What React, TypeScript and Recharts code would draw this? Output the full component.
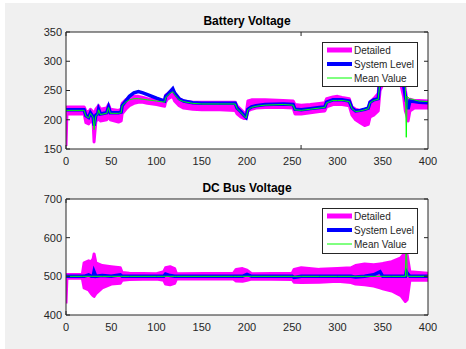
import React from 'react';
import { ComposedChart, Area, Line, XAxis, YAxis, CartesianGrid } from 'recharts';

// ---------- Battery Voltage ----------
const batteryTime = [0, 1, 20, 22, 25, 27, 30, 31, 33, 35, 36, 38, 45, 47, 49, 58, 61, 62, 66, 70, 75, 80, 85, 90, 100, 109, 110, 112, 115, 118, 120, 125, 130, 140, 150, 170, 187, 189, 193, 197, 199, 201, 205, 210, 220, 240, 251, 253, 260, 270, 280, 286, 288, 295, 300, 305, 313, 316, 320, 325, 330, 334, 336, 340, 345, 347, 350, 360, 370, 373, 375, 376, 377, 378, 380, 385, 390, 400];
const batterySystem = [217, 217, 217, 207, 204, 212, 205, 190, 208, 210, 218, 210, 212, 222, 212, 212, 213, 224, 232, 240, 246, 248, 246, 243, 237, 232, 240, 243, 248, 253, 246, 236, 232, 229, 228, 228, 228, 220, 214, 207, 204, 218, 222, 224, 226, 227, 226, 218, 217, 219, 221, 222, 230, 234, 234, 234, 232, 220, 215, 216, 218, 220, 230, 234, 236, 270, 290, 300, 290, 260, 240, 232, 230, 218, 232, 231, 230, 229];
const batteryMean = [216, 216, 216, 206, 203, 211, 204, 183, 207, 209, 217, 209, 211, 221, 211, 211, 212, 224, 230, 234, 236, 236, 235, 234, 232, 230, 237, 241, 245, 248, 243, 234, 231, 228, 227, 227, 227, 219, 213, 206, 203, 217, 221, 223, 225, 226, 225, 217, 216, 218, 220, 221, 229, 233, 233, 233, 231, 219, 214, 215, 217, 219, 229, 233, 235, 268, 288, 298, 288, 262, 255, 170, 240, 238, 236, 234, 232, 231];
const batteryDetailedLow = [155, 210, 210, 195, 193, 198, 195, 162, 198, 200, 202, 198, 200, 205, 200, 196, 198, 210, 218, 224, 228, 230, 230, 228, 226, 223, 230, 235, 238, 240, 232, 224, 220, 218, 217, 217, 216, 210, 205, 202, 202, 215, 218, 220, 221, 221, 220, 210, 210, 212, 214, 215, 222, 226, 226, 226, 224, 208, 200, 195, 190, 192, 205, 208, 215, 250, 260, 270, 260, 240, 215, 210, 205, 198, 215, 220, 220, 220];
const batteryDetailedHigh = [220, 222, 222, 215, 213, 218, 213, 208, 218, 222, 224, 218, 220, 226, 218, 216, 218, 228, 234, 238, 240, 240, 238, 236, 234, 233, 242, 244, 248, 250, 244, 236, 232, 230, 230, 230, 230, 224, 218, 212, 210, 232, 234, 234, 234, 233, 232, 226, 225, 226, 228, 229, 236, 239, 240, 238, 236, 222, 218, 216, 214, 218, 230, 236, 245, 290, 300, 310, 300, 280, 250, 240, 235, 225, 235, 233, 233, 232];

// ---------- DC Bus Voltage ----------
const busTime = [0, 1, 18, 20, 25, 28, 30, 31, 33, 40, 50, 60, 62, 70, 100, 108, 110, 115, 120, 122, 185, 188, 195, 200, 205, 250, 252, 260, 280, 300, 315, 320, 330, 340, 347, 350, 360, 370, 375, 376, 377, 380, 400];
const busSystem = [500, 500, 500, 500, 504, 500, 500, 512, 500, 502, 500, 504, 500, 500, 500, 500, 506, 502, 500, 500, 500, 500, 500, 505, 500, 500, 497, 500, 500, 500, 500, 498, 500, 504, 512, 500, 500, 500, 500, 512, 508, 500, 500];
const busMean = [500, 500, 500, 500, 500, 500, 500, 500, 500, 500, 500, 500, 500, 500, 500, 500, 500, 500, 500, 500, 500, 500, 500, 500, 500, 500, 500, 500, 500, 500, 500, 500, 500, 500, 500, 500, 500, 500, 500, 600, 500, 500, 500];
const busDetailedLow = [430, 495, 495, 470, 465, 455, 450, 448, 455, 470, 480, 482, 490, 492, 493, 490, 480, 478, 482, 493, 493, 488, 487, 490, 493, 492, 485, 484, 485, 487, 484, 480, 478, 475, 470, 468, 462, 450, 435, 437, 440, 490, 490];
const busDetailedHigh = [505, 505, 505, 535, 540, 538, 545, 558, 535, 528, 525, 522, 510, 508, 507, 512, 522, 525, 520, 507, 508, 518, 520, 516, 507, 508, 518, 522, 518, 520, 522, 528, 532, 530, 532, 533, 538, 548, 562, 560, 555, 512, 508];

// ---------- Axes / labels ----------
const xTicks = [0, 50, 100, 150, 200, 250, 300, 350, 400];
const batteryTicks = [150, 200, 250, 300, 350];
const busTicks = [400, 500, 600, 700];
const legendLabels = ['Detailed', 'System Level', 'Mean Value'];
const titles = ['Battery Voltage', 'DC Bus Voltage'];

const MAGENTA = '#ff00ff';
const BLUE = '#0000ff';
const GREEN = '#00ff00';
const AXIS = '#262626';
const FONT = '"Liberation Sans", Arial, Helvetica, sans-serif';

function buildRows(t: number[], lo: number[], hi: number[], sys: number[], mean: number[]) {
  return t.map((x, i) => ({ t: x, range: [lo[i], hi[i]], sys: sys[i], mean: mean[i] }));
}

const batteryRows = buildRows(batteryTime, batteryDetailedLow, batteryDetailedHigh, batterySystem, batteryMean);
const busRows = buildRows(busTime, busDetailedLow, busDetailedHigh, busSystem, busMean);

const NoLabel = () => <g />;

function LegendBox({ top, height }: { top: number; height: number }) {
  const items = [
    { label: legendLabels[0], color: MAGENTA, w: 5 },
    { label: legendLabels[1], color: BLUE, w: 4 },
    { label: legendLabels[2], color: GREEN, w: 1 },
  ];
  return (
    <div
      style={{
        position: 'absolute',
        left: 322,
        top,
        width: 96,
        height,
        background: '#ffffff',
        border: `1px solid ${AXIS}`,
        boxSizing: 'border-box',
      }}
    >
      <svg width={94} height={height - 2} style={{ display: 'block' }}>
        {items.map((it, i) => {
          const y = 7 + i * 14;
          return (
            <g key={it.label}>
              <line x1={4} x2={29} y1={y} y2={y} stroke={it.color} strokeWidth={it.w} />
              <text x={31} y={y} dominantBaseline="central" fontSize={10} fontFamily={FONT} fill={AXIS}>
                {it.label}
              </text>
            </g>
          );
        })}
      </svg>
    </div>
  );
}

type PanelProps = {
  top: number;
  height: number;
  margin: { top: number; right: number; bottom: number; left: number };
  title: string;
  titleTop: number;
  legendTop: number;
  legendHeight: number;
  rows: any[];
  yDomain: [number, number];
  yTicks: number[];
};

function Panel(p: PanelProps) {
  return (
    <div style={{ position: 'absolute', left: 0, top: p.top, width: 466, height: p.height }}>
      <ComposedChart width={466} height={p.height} data={p.rows} margin={p.margin}>
        <CartesianGrid xAxisId="x" yAxisId="y" fill="#ffffff" stroke="none" horizontal={false} vertical={false} />
        <XAxis
          xAxisId="x"
          dataKey="t"
          type="number"
          domain={[0, 400]}
          ticks={xTicks}
          interval={0}
          height={1}
          allowDataOverflow
          tickLine={false}
          tickSize={0}
          tickMargin={8}
          axisLine={{ stroke: AXIS }}
          tick={{ fill: AXIS, fontSize: 11, fontFamily: FONT }}
        />
        <XAxis
          xAxisId="xb"
          type="number"
          orientation="bottom"
          mirror
          domain={[0, 400]}
          ticks={xTicks}
          interval={0}
          height={5}
          allowDataOverflow
          tickSize={4}
          tick={NoLabel}
          axisLine={false}
          tickLine={{ stroke: AXIS }}
        />
        <XAxis
          xAxisId="xt"
          type="number"
          orientation="top"
          mirror
          domain={[0, 400]}
          ticks={xTicks}
          interval={0}
          height={5}
          allowDataOverflow
          tickSize={4}
          tick={NoLabel}
          axisLine={{ stroke: AXIS }}
          tickLine={{ stroke: AXIS }}
        />
        <YAxis
          yAxisId="y"
          type="number"
          domain={p.yDomain}
          ticks={p.yTicks}
          interval={0}
          width={1}
          allowDataOverflow
          tickLine={false}
          tickSize={0}
          tickMargin={4}
          axisLine={{ stroke: AXIS }}
          tick={{ fill: AXIS, fontSize: 11, fontFamily: FONT }}
        />
        <YAxis
          yAxisId="yl"
          type="number"
          orientation="left"
          mirror
          domain={p.yDomain}
          ticks={p.yTicks}
          interval={0}
          width={5}
          allowDataOverflow
          tickSize={4}
          tick={NoLabel}
          axisLine={false}
          tickLine={{ stroke: AXIS }}
        />
        <YAxis
          yAxisId="yr"
          type="number"
          orientation="right"
          mirror
          domain={p.yDomain}
          ticks={p.yTicks}
          interval={0}
          width={5}
          allowDataOverflow
          tickSize={4}
          tick={NoLabel}
          axisLine={{ stroke: AXIS }}
          tickLine={{ stroke: AXIS }}
        />
        <Area
          xAxisId="x"
          yAxisId="y"
          type="linear"
          dataKey="range"
          stroke={MAGENTA}
          strokeWidth={3}
          strokeLinejoin="round"
          fill={MAGENTA}
          fillOpacity={1}
          dot={false}
          activeDot={false}
          isAnimationActive={false}
        />
        <Line
          xAxisId="x"
          yAxisId="y"
          type="linear"
          dataKey="sys"
          stroke={BLUE}
          strokeWidth={3.5}
          dot={false}
          activeDot={false}
          isAnimationActive={false}
        />
        <Line
          xAxisId="x"
          yAxisId="y"
          type="linear"
          dataKey="mean"
          stroke={GREEN}
          strokeWidth={1}
          dot={false}
          activeDot={false}
          isAnimationActive={false}
        />
      </ComposedChart>
      <div
        style={{
          position: 'absolute',
          left: 66,
          width: 362,
          top: p.titleTop,
          textAlign: 'center',
          fontFamily: FONT,
          fontWeight: 'bold',
          fontSize: 12,
          lineHeight: '14px',
          color: '#000000',
          whiteSpace: 'nowrap',
        }}
      >
        {p.title}
      </div>
      <LegendBox top={p.legendTop} height={p.legendHeight} />
    </div>
  );
}

export default function App() {
  return (
    <div style={{ position: 'absolute', left: 0, top: 0, width: 466, height: 349, background: '#ffffff', overflow: 'hidden' }}>
      <div style={{ position: 'absolute', left: 5, top: 3, right: 0, bottom: 0, background: '#f0f0f0' }} />
      <Panel
        top={0}
        height={175}
        margin={{ top: 32, right: 38, bottom: 25, left: 65 }}
        title={titles[0]}
        titleTop={14}
        legendTop={42}
        legendHeight={45}
        rows={batteryRows}
        yDomain={[150, 350]}
        yTicks={batteryTicks}
      />
      <Panel
        top={175}
        height={174}
        margin={{ top: 24, right: 38, bottom: 33, left: 65 }}
        title={titles[1]}
        titleTop={5.5}
        legendTop={33}
        legendHeight={46}
        rows={busRows}
        yDomain={[400, 700]}
        yTicks={busTicks}
      />
    </div>
  );
}
